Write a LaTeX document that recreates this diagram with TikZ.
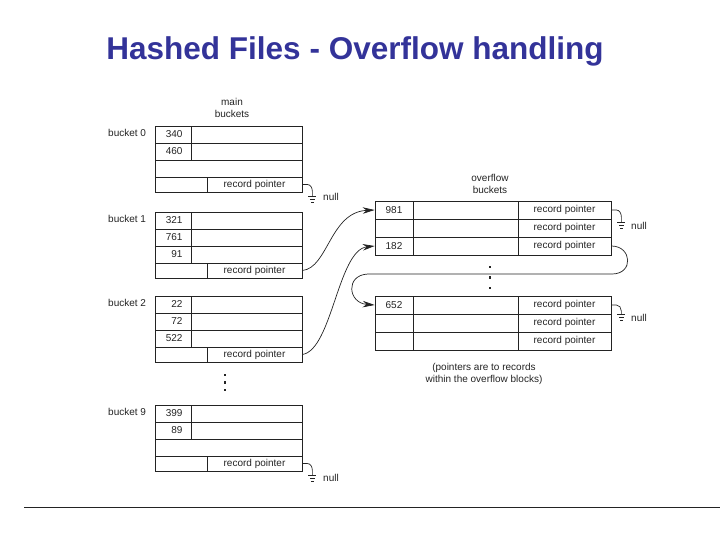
\documentclass[tikz,border=0pt]{standalone}
\usepackage{fontspec}
\setmainfont{Liberation Sans}
\usetikzlibrary{arrows.meta}
\definecolor{titleblue}{RGB}{51,51,153}
\definecolor{linec}{RGB}{35,35,35}
\tikzset{
  cell/.style={draw=linec, line width=0.7pt, inner sep=0pt, font=\fontsize{10}{12}\selectfont, text=linec},
  numcell/.style={cell, text width=19pt, align=right},
  lbl/.style={inner sep=0pt, font=\fontsize{10}{12}\selectfont, text=linec},
  wire/.style={draw=linec, line width=0.7pt},
  arr/.style={wire, -{Stealth[length=12pt,width=6.5pt]}},
  dotm/.style={fill=linec, minimum size=2.8pt, inner sep=0pt},
  gnd/.pic={\draw[linec, line width=0.7pt] (-4,0)--(4,0) (-2.6,3)--(2.6,3) (-1.2,6)--(1.2,6);}
}
% main bucket: #1 name, #2 top y, #3 n1, #4 n2, #5 n3 (empty = blank row)
\newcommand\mbucket[5]{%
  \node[numcell, minimum width=36pt, minimum height=17pt] (#1a) at (173,{#2+8.5}) {#3};
  \node[cell, minimum width=111pt, minimum height=17pt] (#1aw) at (246.5,{#2+8.5}) {};
  \node[numcell, minimum width=36pt, minimum height=17pt] (#1b) at (173,{#2+25.5}) {#4};
  \node[cell, minimum width=111pt, minimum height=17pt] (#1bw) at (246.5,{#2+25.5}) {};
  \if\relax\detokenize{#5}\relax
    \node[cell, minimum width=147pt, minimum height=17pt] (#1c) at (228.5,{#2+42.5}) {};
  \else
    \node[numcell, minimum width=36pt, minimum height=17pt] (#1c) at (173,{#2+42.5}) {#5};
    \node[cell, minimum width=111pt, minimum height=17pt] (#1cw) at (246.5,{#2+42.5}) {};
  \fi
  \node[cell, minimum width=52pt, minimum height=15pt] (#1l) at (181,{#2+58.5}) {};
  \node[cell, minimum width=95pt, minimum height=15pt] (#1rp) at (254.5,{#2+58.5}) {record pointer};
}
% overflow row: #1 name, #2 center y, #3 number
\newcommand\orow[3]{%
  \node[cell, minimum width=38pt, minimum height=18pt] (#1n) at (394,#2) {#3};
  \node[cell, minimum width=105pt, minimum height=18pt] (#1m) at (465.5,#2) {};
  \node[cell, minimum width=93pt, minimum height=18pt] (#1rp) at (564.5,#2) {record pointer};
}
\begin{document}
\begin{tikzpicture}[x=1pt,y=-1pt]
\useasboundingbox (0,0) rectangle (720,540);
% title
\node[font=\bfseries\fontsize{31.5}{34}\selectfont, text=titleblue] (title) at (355,51) {Hashed Files - Overflow handling};
% bottom rule
\draw[linec, line width=0.8pt] (24,507) -- (720,507);

% headings
\node[lbl, align=center] (mainh) at (232,108) {main\\buckets};
\node[lbl, align=center] (ovh) at (490,184) {overflow\\buckets};

% main buckets
\mbucket{bz}{126}{340}{460}{}
\mbucket{bo}{212}{321}{761}{91}
\mbucket{bt}{296}{22}{72}{522}
\mbucket{bn}{405}{399}{89}{}
\node[lbl, anchor=west] (lbz) at (108,133) {bucket 0};
\node[lbl, anchor=west] (lbo) at (108,219) {bucket 1};
\node[lbl, anchor=west] (lbt) at (108,303) {bucket 2};
\node[lbl, anchor=west] (lbn) at (108,412) {bucket 9};

% dots between main buckets
\node[dotm] (md1) at (225,375) {};
\node[dotm] (md2) at (225,382.5) {};
\node[dotm] (md3) at (225,390) {};

% overflow blocks
\orow{oa}{210}{981}
\orow{ob}{228}{}
\orow{oc}{246}{182}
\orow{od}{305}{652}
\orow{oe}{323}{}
\orow{of}{341}{}

% dots between overflow blocks
\node[dotm] (od1) at (490,267) {};
\node[dotm] (od2) at (490,277.5) {};
\node[dotm] (od3) at (490,288) {};

% caption
\node[lbl, align=center] (cap) at (484,374) {(pointers are to records\\within the overflow blocks)};

% null grounds
\draw[wire] (bzrp.east) -- ++(5,0) to[out=0,in=90] ++(5,7) -- ++(0,5) coordinate (gz);
\pic at (gz) {gnd};
\node[lbl, anchor=west] (nz) at (323,197) {null};
\draw[wire] (bnrp.east) -- ++(5,0) to[out=0,in=90] ++(5,7) -- ++(0,5) coordinate (gn);
\pic at (gn) {gnd};
\node[lbl, anchor=west] (nn) at (323,478) {null};
\draw[wire] (oarp.east) -- ++(5,0) to[out=0,in=90] ++(5,7) -- ++(0,5) coordinate (ga);
\pic at (ga) {gnd};
\node[lbl, anchor=west] (na) at (631,226) {null};
\draw[wire] (odrp.east) -- ++(5,0) to[out=0,in=90] ++(5,6) -- ++(0,3) coordinate (gd);
\pic at (gd) {gnd};
\node[lbl, anchor=west] (nd) at (631,318) {null};

% connectors from main buckets to overflow
\draw[arr] (borp.east) .. controls (328,268) and (330,212) .. (oan.west);
\draw[arr] (btrp.east) .. controls (332,350) and (338,250) .. (ocn.west);
% chain within overflow
\draw[arr] (ocrp.east) .. controls (632,246) and (634,274) .. (612,274) -- (368,274) .. controls (345,275) and (348,303) .. (odn.west);
\end{tikzpicture}
\end{document}
